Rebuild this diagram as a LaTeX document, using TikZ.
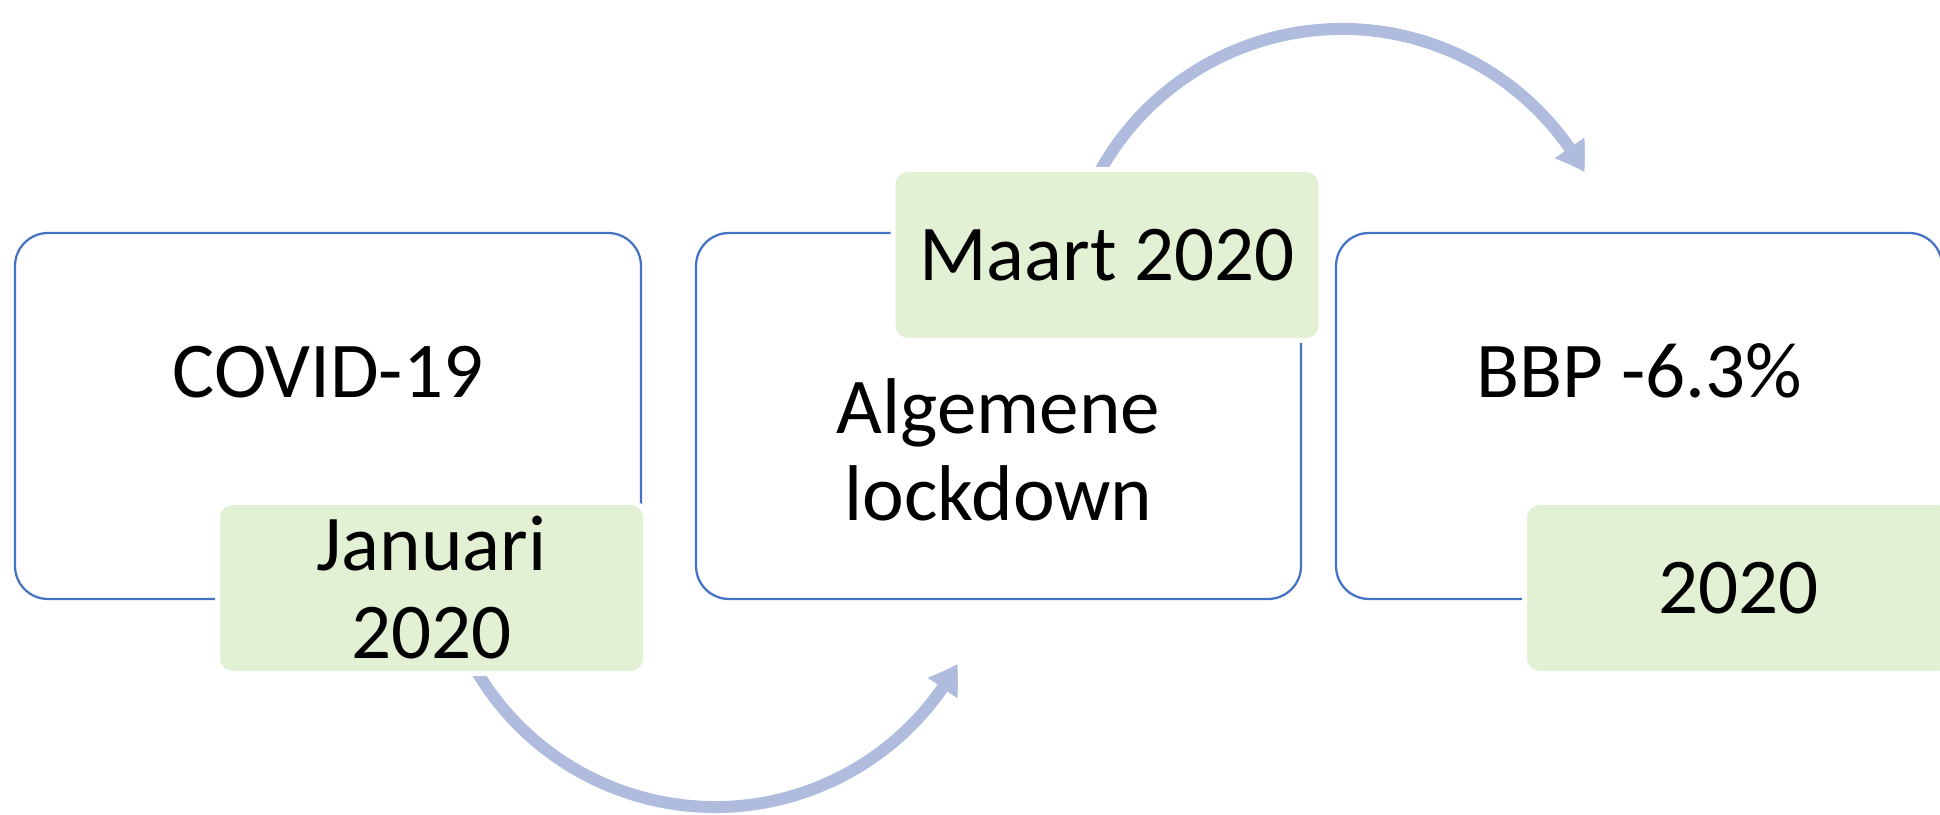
\documentclass[tikz,border=0pt]{standalone}
\usepackage{fontspec}
\setmainfont{Carlito}
\usepackage{tikz}
\usetikzlibrary{arrows.meta, bending, positioning}
\definecolor{boxblue}{HTML}{4472C4}
\definecolor{dategreen}{HTML}{E2F0D4}
\definecolor{arcblue}{HTML}{B0BCDE}
\tikzset{
    mainbox/.style={draw=boxblue, line width=0.045cm, rounded corners=0.66cm, minimum height=7.32cm, inner sep=0pt}, % 主框的样式
    datebox/.style={fill=dategreen, draw=white, line width=0.1cm, rounded corners=0.3cm, minimum width=8.56cm, minimum height=3.42cm, align=center, inner sep=0pt}, % 日期框的样式
    flow/.style={draw=arcblue, line width=0.24cm, -{Triangle[length=0.56cm, width=0.72cm, line width=0.01cm, fill=arcblue, bend]}}, % 弧形箭头
    txt/.style={inner sep=0pt, align=center} % 文字
}

\begin{document}
\begin{tikzpicture}[font=\fontsize{45}{50}\selectfont]
            \clip (0,0) rectangle (38.8,16.28);
            \useasboundingbox (0,0) rectangle (38.8,16.28);

            \foreach \n/\x/\w in {box1/6.56/12.52, box2/19.97/12.10, box3/32.78/12.12} {\node[mainbox, minimum width=\w cm] (\n) at (\x,7.96) {};}

            \node[txt, anchor=base] (covid) at ([yshift=0.36cm]box1.center) {COVID-19};
            \node[txt, anchor=base] (lock) at ([yshift=-2.10cm]box2.center) {Algemene\\lockdown};
            \node[txt, anchor=base] (bbp) at ([yshift=0.36cm]box3.center) {BBP -6.3\%};

            \coordinate (c1) at (14.30,5.68);
            \coordinate (c2) at (26.84,10.16);
            \draw[flow] ([shift=(205:5.54)]c1) arc[start angle=205, end angle=331, radius=5.54];
            \draw[flow] ([shift=(155:5.54)]c2) arc[start angle=155, end angle=29, radius=5.54];

            \node[datebox] (jan) at (8.63,4.52) {Januari\\2020};
            \node[datebox] (mrt) at (22.14,11.18) {Maart 2020};
            \node[datebox] (jaar) at (34.77,4.52) {2020};
        \end{tikzpicture}
\end{document}
